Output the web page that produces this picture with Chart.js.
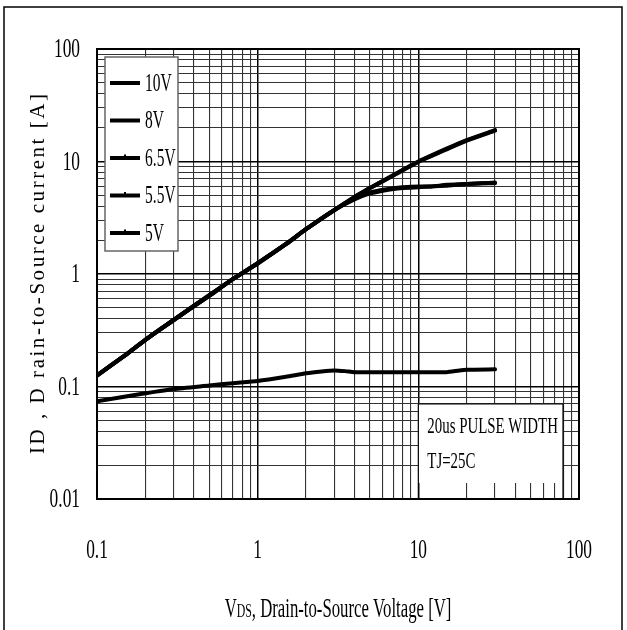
<!DOCTYPE html>
<html>
<head>
<meta charset="utf-8">
<script src="https://cdn.jsdelivr.net/npm/chart.js@4.4.1/dist/chart.umd.min.js"></script>
<style>
    html, body { margin: 0; padding: 0; background: #fff; }
    canvas { display: block; }
</style>
</head>
<body>
<canvas id="outputChart" width="627" height="630"></canvas>
<script>
// drain current vs drain-source voltage, log-log
const seriesLabels = ['10V', '8V', '6.5V', '5.5V', '5V'];

const vdsTop = [0.1, 0.15, 0.2, 0.3, 0.5, 0.7, 1, 1.5, 2, 3, 4, 5, 7, 10, 15, 20, 30];
const id10V = [0.126, 0.19, 0.26, 0.39, 0.65, 0.9, 1.25, 1.85, 2.5, 3.7, 4.85, 5.8, 7.6, 10, 13, 15.5, 19];
const id8V  = [0.125, 0.19, 0.26, 0.39, 0.64, 0.9, 1.24, 1.84, 2.5, 3.7, 4.8, 5.8, 7.5, 9.9, 12.8, 15.3, 18.8];

const vdsMid = [0.1, 0.15, 0.2, 0.3, 0.5, 0.7, 1, 1.5, 2, 3, 4, 5, 6, 7, 8, 10, 12, 15, 20, 25, 30];
const id65V = [0.126, 0.19, 0.26, 0.39, 0.65, 0.9, 1.25, 1.85, 2.5, 3.7, 4.7, 5.3, 5.6, 5.8, 5.9, 6.0, 6.0, 6.2, 6.3, 6.4, 6.5];
const id55V = [0.125, 0.19, 0.26, 0.39, 0.64, 0.9, 1.24, 1.84, 2.5, 3.7, 4.6, 5.2, 5.5, 5.7, 5.8, 5.9, 6.0, 6.1, 6.3, 6.4, 6.4];

const vdsLow = [0.1, 0.2, 0.3, 0.5, 0.7, 1, 1.5, 2, 2.5, 3, 3.5, 4, 5, 7, 10, 15, 18, 20, 30];
const id5V  = [0.074, 0.087, 0.095, 0.102, 0.107, 0.112, 0.122, 0.131, 0.136, 0.139, 0.137, 0.134, 0.134, 0.134, 0.134, 0.134, 0.139, 0.141, 0.142];

const xTickLabels = ['0.1', '1', '10', '100'];
const yTickLabels = ['0.01', '0.1', '1', '10', '100'];
const noteLines = ['20us PULSE WIDTH', 'TJ=25C'];

const FONT = '"Liberation Serif", "DejaVu Serif", serif';
const SQUEEZE = 0.62;

function toPoints(xs, ys) {
    return xs.map((x, i) => ({ x: x, y: ys[i] }));
}

// grid values: every 1..9 step of each decade
function logGrid(min, max) {
    const out = [];
    for (let d = min; d < max; d *= 10) {
        for (let k = 1; k < 10; k++) out.push(+(d * k).toPrecision(3));
    }
    out.push(max);
    return out;
}

function isDecade(v) {
    const l = Math.log10(v);
    return Math.abs(l - Math.round(l)) < 1e-6;
}

// narrow serif text like the original datasheet font
function squeezedText(ctx, text, x, y, size, align) {
    ctx.save();
    ctx.font = size + 'px ' + FONT;
    ctx.textBaseline = 'middle';
    const w = ctx.measureText(text).width * SQUEEZE;
    let left = x;
    if (align === 'center') left = x - w / 2;
    if (align === 'right') left = x - w;
    ctx.translate(left, y);
    ctx.scale(SQUEEZE, 1);
    ctx.textAlign = 'left';
    ctx.fillText(text, 0, 0);
    ctx.restore();
}

const sheetPlugin = {
    id: 'sheetPlugin',
    beforeDraw(chart) {
        const ctx = chart.ctx;
        ctx.save();
        ctx.fillStyle = '#fff';
        ctx.fillRect(0, 0, chart.width, chart.height);
        ctx.strokeStyle = '#000';
        ctx.lineWidth = 1.5;
        ctx.strokeRect(4, 7, 618, 640);
        ctx.restore();
    },
    beforeDatasetsDraw(chart) {
        const ctx = chart.ctx;
        const a = chart.chartArea;
        const xs = chart.scales.x;
        ctx.save();
        // legend box
        ctx.fillStyle = '#fff';
        ctx.fillRect(a.left + 8, a.top + 8, 73, 194);
        ctx.strokeStyle = '#666';
        ctx.lineWidth = 1.5;
        ctx.strokeRect(a.left + 8, a.top + 8, 73, 194);
        // note box, left edge on the 10 V grid line
        const nl = xs.getPixelForValue(10);
        const nr = a.right - 16;
        const nt = a.bottom - 95;
        const nb = a.bottom - 16;
        ctx.fillRect(nl, nt, nr - nl, nb - nt);
        ctx.strokeStyle = '#000';
        ctx.lineWidth = 1.2;
        ctx.beginPath();
        ctx.moveTo(nl, a.bottom);
        ctx.lineTo(nl, nt);
        ctx.lineTo(nr, nt);
        ctx.lineTo(nr, a.bottom);
        ctx.stroke();
        ctx.restore();
    },
    afterDraw(chart) {
        const ctx = chart.ctx;
        const a = chart.chartArea;
        const xs = chart.scales.x;
        const ys = chart.scales.y;
        ctx.save();
        ctx.strokeStyle = '#000';
        ctx.lineWidth = 2;
        ctx.strokeRect(a.left, a.top, a.right - a.left, a.bottom - a.top);

        ctx.fillStyle = '#000';
        // legend entries
        chart.data.datasets.forEach((ds, i) => {
            const y = a.top + 34 + i * 37.5;
            ctx.strokeStyle = ds.borderColor;
            ctx.lineWidth = 4;
            ctx.beginPath();
            ctx.moveTo(a.left + 13, y);
            ctx.lineTo(a.left + 43, y);
            ctx.stroke();
            if (ds.marked) {
                ctx.fillRect(a.left + 27, y - 3.5, 2, 3);
            }
            squeezedText(ctx, ds.label, a.left + 48, y + 1, 25, 'left');
        });

        // note text
        const nl = xs.getPixelForValue(10);
        squeezedText(ctx, noteLines[0], nl + 9, a.bottom - 72, 24, 'left');
        squeezedText(ctx, noteLines[1], nl + 9, a.bottom - 37, 24, 'left');

        // tick labels
        xTickLabels.forEach(t => {
            squeezedText(ctx, t, xs.getPixelForValue(parseFloat(t)), a.bottom + 52, 28, 'center');
        });
        yTickLabels.forEach(t => {
            squeezedText(ctx, t, a.left - 17, ys.getPixelForValue(parseFloat(t)) + 1, 28, 'right');
        });

        // x title with small DS
        const parts = [['V', 27], ['DS', 19], [', Drain-to-Source Voltage [V]', 27]];
        let total = 0;
        parts.forEach(p => {
            ctx.font = p[1] + 'px ' + FONT;
            total += ctx.measureText(p[0]).width * SQUEEZE;
        });
        let cx = (a.left + a.right) / 2 - total / 2;
        const ty = a.bottom + 111;
        parts.forEach(p => {
            squeezedText(ctx, p[0], cx, ty + (p[1] < 22 ? 2 : 0), p[1], 'left');
            ctx.font = p[1] + 'px ' + FONT;
            cx += ctx.measureText(p[0]).width * SQUEEZE;
        });

        // y title, rotated, letters spread over ~360px
        const yTitle = 'ID , D rain-to-Source current [A]';
        ctx.save();
        ctx.translate(38, (a.top + a.bottom) / 2);
        ctx.rotate(-Math.PI / 2);
        ctx.font = '21px ' + FONT;
        ctx.textAlign = 'left';
        ctx.textBaseline = 'middle';
        const chars = yTitle.split('');
        const natural = ctx.measureText(yTitle).width;
        const gap = (360 - natural) / (chars.length - 1);
        let px = -180;
        chars.forEach(ch => {
            ctx.fillText(ch, px, 0);
            px += ctx.measureText(ch).width + gap;
        });
        ctx.restore();

        ctx.restore();
    }
};

function makeSet(label, xs, ys, marked) {
    return {
        label: label,
        data: toPoints(xs, ys),
        borderColor: '#000',
        backgroundColor: '#000',
        borderWidth: 4,
        pointRadius: 0,
        tension: 0.2,
        borderJoinStyle: 'round',
        borderCapStyle: 'round',
        marked: marked
    };
}

function axisGrid() {
    return {
        display: true,
        drawTicks: false,
        color: ctx => (ctx.tick && isDecade(ctx.tick.value) ? '#000' : '#333'),
        lineWidth: ctx => (ctx.tick && isDecade(ctx.tick.value) ? 1.5 : 1.1)
    };
}

const xGrid = logGrid(0.1, 100);
const yGrid = logGrid(0.01, 100);

new Chart(document.getElementById('outputChart').getContext('2d'), {
    type: 'line',
    data: {
        datasets: [
            makeSet(seriesLabels[0], vdsTop, id10V, false),
            makeSet(seriesLabels[1], vdsTop, id8V, false),
            makeSet(seriesLabels[2], vdsMid, id65V, true),
            makeSet(seriesLabels[3], vdsMid, id55V, true),
            makeSet(seriesLabels[4], vdsLow, id5V, true)
        ]
    },
    options: {
        responsive: false,
        animation: false,
        layout: { padding: { left: 97, top: 49, right: 48, bottom: 131 } },
        plugins: {
            legend: { display: false },
            tooltip: { enabled: false }
        },
        scales: {
            x: {
                type: 'logarithmic',
                min: 0.1,
                max: 100,
                afterBuildTicks: scale => { scale.ticks = xGrid.map(v => ({ value: v })); },
                ticks: { display: false, autoSkip: false },
                grid: axisGrid(),
                border: { display: false }
            },
            y: {
                type: 'logarithmic',
                min: 0.01,
                max: 100,
                afterBuildTicks: scale => { scale.ticks = yGrid.map(v => ({ value: v })); },
                ticks: { display: false, autoSkip: false },
                grid: axisGrid(),
                border: { display: false }
            }
        }
    },
    plugins: [sheetPlugin]
});
</script>
</body>
</html>
